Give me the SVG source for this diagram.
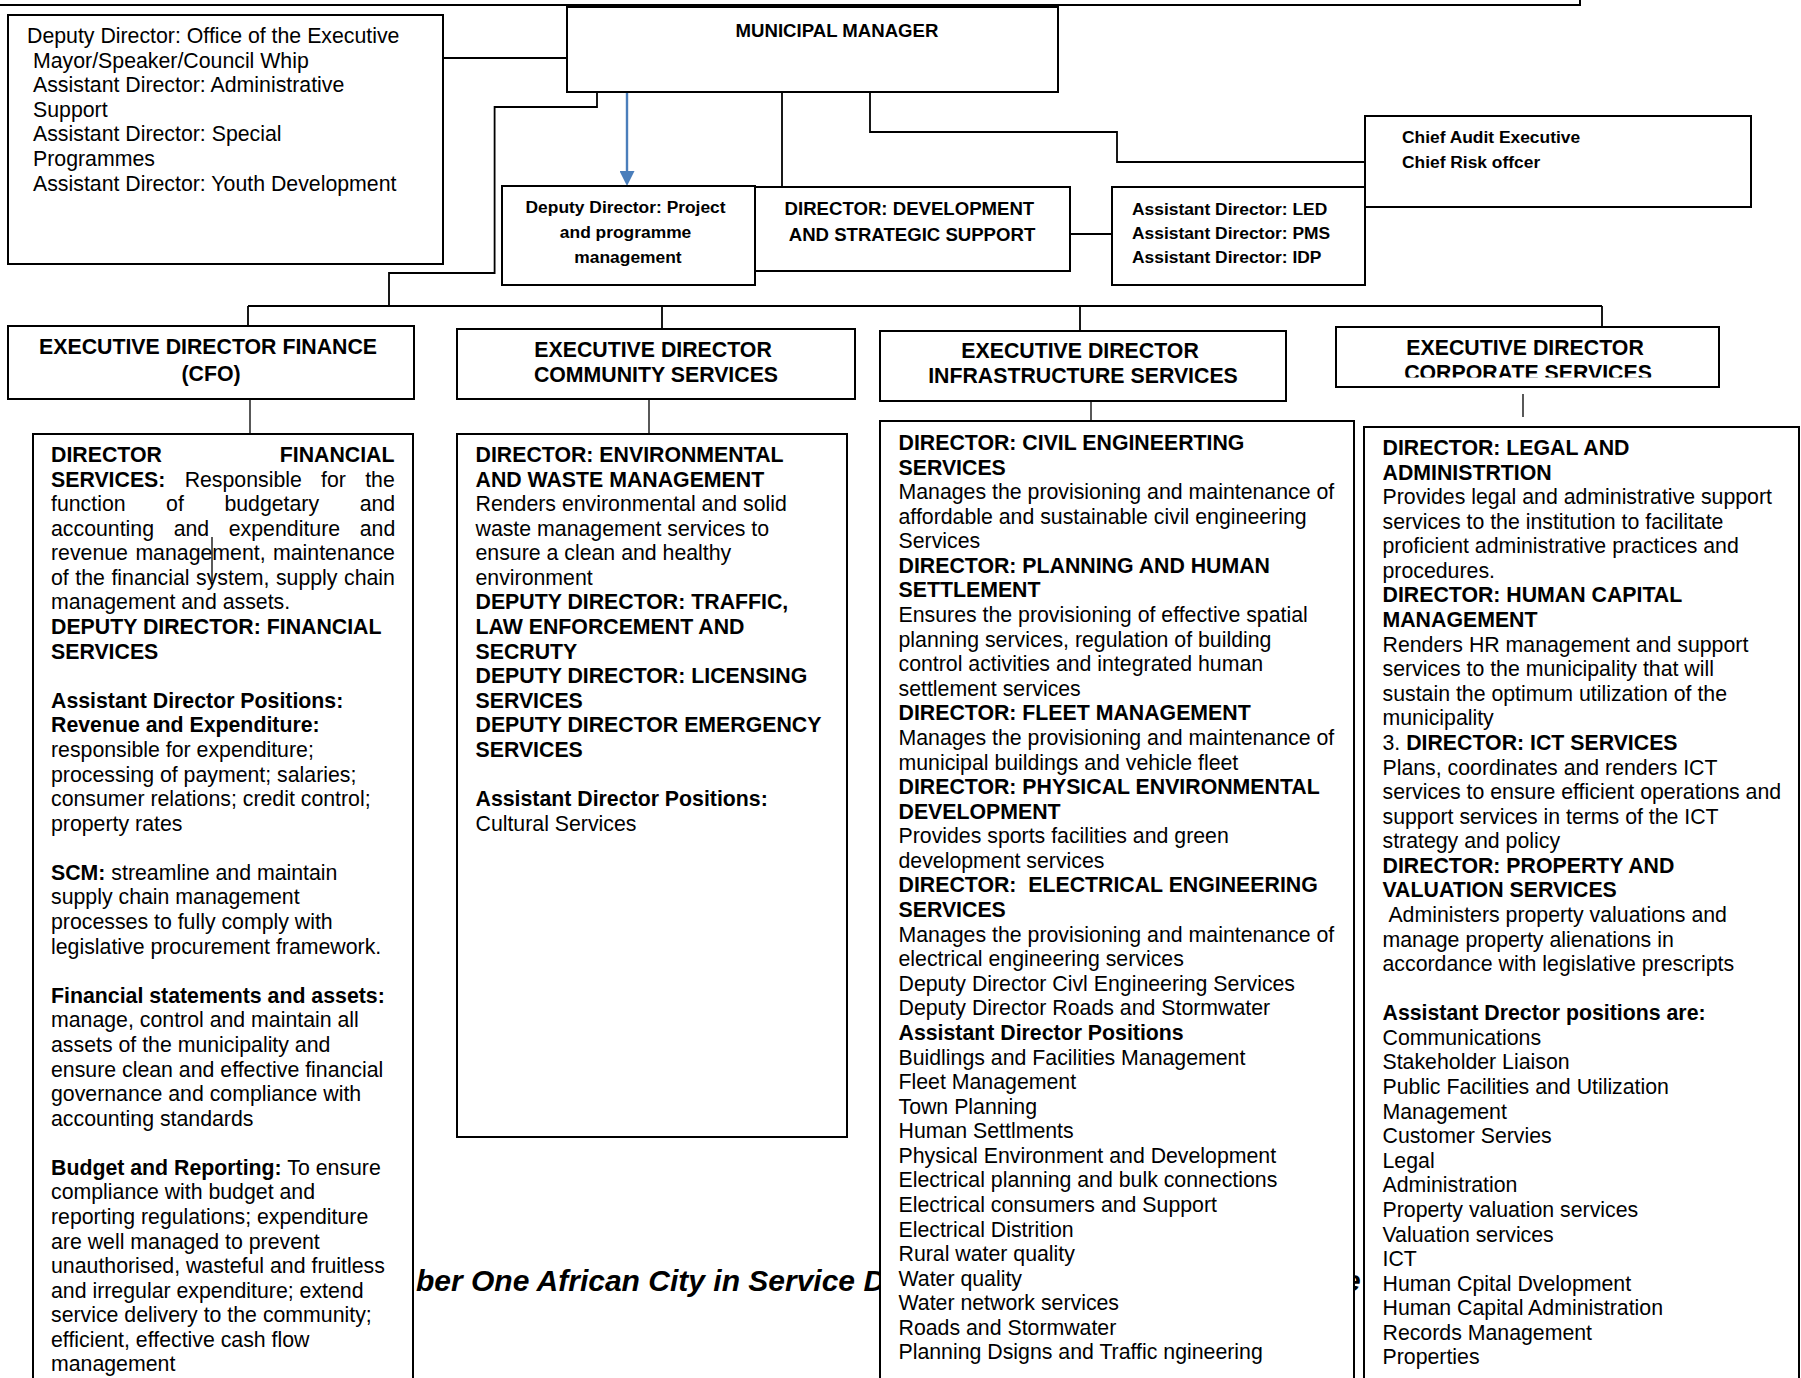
<svg xmlns="http://www.w3.org/2000/svg" width="1801" height="1378" viewBox="0 0 1801 1378">
<style>
.box{fill:#fff;stroke:#000;stroke-width:2}
.ln{fill:none;stroke:#000;stroke-width:1.8}
.thin{fill:none;stroke:#000;stroke-width:1.3}
text{font-family:"Liberation Sans",Arial,sans-serif;fill:#000}
.t{font-size:21.3px}
.b{font-weight:bold}
.s{font-size:17.4px;font-weight:bold}
.m{font-size:18.6px;font-weight:bold}
.c{text-anchor:middle}
.slogan{font-size:30px;font-weight:bold;font-style:italic}
</style>
<defs>
<marker id="ah" viewBox="0 0 15 15" markerWidth="15" markerHeight="15" refX="0" refY="7.5" orient="auto" markerUnits="userSpaceOnUse">
<path d="M0,0 L15,7.5 L0,15 z" fill="#4a7ebb"/>
</marker>
<clipPath id="corpClip"><rect x="1336" y="327" width="383" height="50.5"/></clipPath>
</defs>
<rect width="1801" height="1378" fill="#fff"/>

<!-- partially hidden slogan behind boxes -->
<text class="slogan" x="416" y="1291">ber One African City in Service De</text>
<text class="slogan" x="1344" y="1291">e</text>

<g id="top-frame"><rect class="box" x="-5" y="-20" width="1585" height="25"/></g>

<g id="connectors">
<path class="ln" d="M443,58 H567"/>
<path class="ln" d="M597,92 V107 H494.6 V273 H389 V306"/>
<path class="ln" d="M782,92 V187"/>
<path class="ln" d="M870,92 V132 H1117 V162 H1365"/>
<path class="ln" d="M1070,234 H1112"/>
<path class="ln" d="M248,306 H1602"/>
<path class="ln" d="M248,306 V326 M662,306 V329 M1080,306 V331 M1602,306 V327"/>
<path class="thin" d="M250,400 V434 M649,400 V434 M1091,402 V426 M1523,394 V417"/>
<path d="M627,92 V171" fill="none" stroke="#4a7ebb" stroke-width="2.4" marker-end="url(#ah)"/>
</g>

<g id="municipal-manager">
<rect class="box" x="567" y="7" width="491" height="85"/>
<text class="m c" x="837" y="37">MUNICIPAL MANAGER</text>
</g>

<g id="office-exec-mayor">
<rect class="box" x="8" y="15" width="435" height="249"/>
<text class="t">
<tspan x="27" y="43">Deputy Director: Office of the Executive</tspan>
<tspan x="33" y="67.6">Mayor/Speaker/Council Whip</tspan>
<tspan x="33" y="92.2">Assistant Director: Administrative</tspan>
<tspan x="33" y="116.8">Support</tspan>
<tspan x="33" y="141.4">Assistant Director: Special</tspan>
<tspan x="33" y="166">Programmes</tspan>
<tspan x="33" y="190.6">Assistant Director: Youth Development</tspan>
</text>
</g>

<g id="project-programme">
<rect class="box" x="502" y="186" width="253" height="99"/>
<text class="s c">
<tspan x="628" y="213">Deputy Director: Project</tspan>
<tspan x="628" y="238">and programme</tspan>
<tspan x="628" y="263">management</tspan>
</text>
</g>

<g id="development-strategic">
<rect class="box" x="755" y="187" width="315" height="84"/>
<text class="m c">
<tspan x="912" y="215">DIRECTOR: DEVELOPMENT</tspan>
<tspan x="912" y="241">AND STRATEGIC SUPPORT</tspan>
</text>
</g>

<g id="led-pms-idp">
<rect class="box" x="1112" y="187" width="253" height="98"/>
<text class="s">
<tspan x="1132" y="215">Assistant Director: LED</tspan>
<tspan x="1132" y="239">Assistant Director: PMS</tspan>
<tspan x="1132" y="263">Assistant Director: IDP</tspan>
</text>
</g>

<g id="audit-risk">
<rect class="box" x="1365" y="116" width="386" height="91"/>
<text class="s">
<tspan x="1402" y="143">Chief Audit Executive</tspan>
<tspan x="1402" y="168">Chief Risk offcer</tspan>
</text>
</g>

<g id="ed-finance">
<rect class="box" x="8" y="326" width="406" height="73"/>
<text class="t b c">
<tspan x="211" y="354">EXECUTIVE DIRECTOR FINANCE</tspan>
<tspan x="211" y="381">(CFO)</tspan>
</text>
</g>

<g id="ed-community">
<rect class="box" x="457" y="329" width="398" height="70"/>
<text class="t b c">
<tspan x="656" y="357">EXECUTIVE DIRECTOR</tspan>
<tspan x="656" y="382">COMMUNITY SERVICES</tspan>
</text>
</g>

<g id="ed-infrastructure">
<rect class="box" x="880" y="331" width="406" height="70"/>
<text class="t b c">
<tspan x="1083" y="358">EXECUTIVE DIRECTOR</tspan>
<tspan x="1083" y="383">INFRASTRUCTURE SERVICES</tspan>
</text>
</g>

<g id="ed-corporate">
<rect class="box" x="1336" y="327" width="383" height="60"/>
<text class="t b c" clip-path="url(#corpClip)">
<tspan x="1528" y="355">EXECUTIVE DIRECTOR</tspan>
<tspan x="1528" y="380">CORPORATE SERVICES</tspan>
</text>
</g>

<g id="finance-directorates">
<rect class="box" x="33" y="434" width="380" height="1000"/>
<path class="thin" d="M212,537 V581"/>
<text class="t">
<tspan x="51" y="462" class="b" style="word-spacing:112px">DIRECTOR FINANCIAL</tspan>
<tspan x="51" dy="24.58" style="word-spacing:13.3px"><tspan class="b">SERVICES:</tspan> Responsible for the</tspan>
<tspan x="51" dy="24.58" style="word-spacing:34.6px">function of budgetary and</tspan>
<tspan x="51" dy="24.58" style="word-spacing:13.7px">accounting and expenditure and</tspan>
<tspan x="51" dy="24.58" style="word-spacing:1.5px">revenue management, maintenance</tspan>
<tspan x="51" dy="24.58" style="word-spacing:0.6px">of the financial system, supply chain</tspan>
<tspan x="51" dy="24.58">management and assets.</tspan>
<tspan x="51" dy="24.58" class="b">DEPUTY DIRECTOR: FINANCIAL</tspan>
<tspan x="51" dy="24.58" class="b">SERVICES</tspan>
<tspan x="51" dy="49.16" class="b">Assistant Director Positions:</tspan>
<tspan x="51" dy="24.58" class="b">Revenue and Expenditure:</tspan>
<tspan x="51" dy="24.58">responsible for expenditure;</tspan>
<tspan x="51" dy="24.58">processing of payment; salaries;</tspan>
<tspan x="51" dy="24.58">consumer relations; credit control;</tspan>
<tspan x="51" dy="24.58">property rates</tspan>
<tspan x="51" dy="49.16"><tspan class="b">SCM:</tspan> streamline and maintain</tspan>
<tspan x="51" dy="24.58">supply chain management</tspan>
<tspan x="51" dy="24.58">processes to fully comply with</tspan>
<tspan x="51" dy="24.58">legislative procurement framework.</tspan>
<tspan x="51" dy="49.16" class="b">Financial statements and assets:</tspan>
<tspan x="51" dy="24.58">manage, control and maintain all</tspan>
<tspan x="51" dy="24.58">assets of the municipality and</tspan>
<tspan x="51" dy="24.58">ensure clean and effective financial</tspan>
<tspan x="51" dy="24.58">governance and compliance with</tspan>
<tspan x="51" dy="24.58">accounting standards</tspan>
<tspan x="51" dy="49.16"><tspan class="b">Budget and Reporting:</tspan> To ensure</tspan>
<tspan x="51" dy="24.58">compliance with budget and</tspan>
<tspan x="51" dy="24.58">reporting regulations; expenditure</tspan>
<tspan x="51" dy="24.58">are well managed to prevent</tspan>
<tspan x="51" dy="24.58">unauthorised, wasteful and fruitless</tspan>
<tspan x="51" dy="24.58">and irregular expenditure; extend</tspan>
<tspan x="51" dy="24.58">service delivery to the community;</tspan>
<tspan x="51" dy="24.58">efficient, effective cash flow</tspan>
<tspan x="51" dy="24.58">management</tspan>
</text>
</g>

<g id="community-directorates">
<rect class="box" x="457" y="434" width="390" height="703"/>
<text class="t">
<tspan x="475.5" y="462" class="b">DIRECTOR: ENVIRONMENTAL</tspan>
<tspan x="475.5" dy="24.58" class="b">AND WASTE MANAGEMENT</tspan>
<tspan x="475.5" dy="24.58">Renders environmental and solid</tspan>
<tspan x="475.5" dy="24.58">waste management services to</tspan>
<tspan x="475.5" dy="24.58">ensure a clean and healthy</tspan>
<tspan x="475.5" dy="24.58">environment</tspan>
<tspan x="475.5" dy="24.58" class="b">DEPUTY DIRECTOR: TRAFFIC,</tspan>
<tspan x="475.5" dy="24.58" class="b">LAW ENFORCEMENT AND</tspan>
<tspan x="475.5" dy="24.58" class="b">SECRUTY</tspan>
<tspan x="475.5" dy="24.58" class="b">DEPUTY DIRECTOR: LICENSING</tspan>
<tspan x="475.5" dy="24.58" class="b">SERVICES</tspan>
<tspan x="475.5" dy="24.58" class="b">DEPUTY DIRECTOR EMERGENCY</tspan>
<tspan x="475.5" dy="24.58" class="b">SERVICES</tspan>
<tspan x="475.5" dy="49.16" class="b">Assistant Director Positions:</tspan>
<tspan x="475.5" dy="24.58">Cultural Services</tspan>
</text>
</g>

<g id="infrastructure-directorates">
<rect class="box" x="880" y="421" width="474" height="1000"/>
<text class="t">
<tspan x="898.5" y="450" class="b">DIRECTOR: CIVIL ENGINEERTING</tspan>
<tspan x="898.5" dy="24.58" class="b">SERVICES</tspan>
<tspan x="898.5" dy="24.58">Manages the provisioning and maintenance of</tspan>
<tspan x="898.5" dy="24.58">affordable and sustainable civil engineering</tspan>
<tspan x="898.5" dy="24.58">Services</tspan>
<tspan x="898.5" dy="24.58" class="b">DIRECTOR: PLANNING AND HUMAN</tspan>
<tspan x="898.5" dy="24.58" class="b">SETTLEMENT</tspan>
<tspan x="898.5" dy="24.58">Ensures the provisioning of effective spatial</tspan>
<tspan x="898.5" dy="24.58">planning services, regulation of building</tspan>
<tspan x="898.5" dy="24.58">control activities and integrated human</tspan>
<tspan x="898.5" dy="24.58">settlement services</tspan>
<tspan x="898.5" dy="24.58" class="b">DIRECTOR: FLEET MANAGEMENT</tspan>
<tspan x="898.5" dy="24.58">Manages the provisioning and maintenance of</tspan>
<tspan x="898.5" dy="24.58">municipal buildings and vehicle fleet</tspan>
<tspan x="898.5" dy="24.58" class="b">DIRECTOR: PHYSICAL ENVIRONMENTAL</tspan>
<tspan x="898.5" dy="24.58" class="b">DEVELOPMENT</tspan>
<tspan x="898.5" dy="24.58">Provides sports facilities and green</tspan>
<tspan x="898.5" dy="24.58">development services</tspan>
<tspan x="898.5" dy="24.58" class="b" style="white-space:pre">DIRECTOR:  ELECTRICAL ENGINEERING</tspan>
<tspan x="898.5" dy="24.58" class="b">SERVICES</tspan>
<tspan x="898.5" dy="24.58">Manages the provisioning and maintenance of</tspan>
<tspan x="898.5" dy="24.58">electrical engineering services</tspan>
<tspan x="898.5" dy="24.58">Deputy Director Civl Engineering Services</tspan>
<tspan x="898.5" dy="24.58">Deputy Director Roads and Stormwater</tspan>
<tspan x="898.5" dy="24.58" class="b">Assistant Director Positions</tspan>
<tspan x="898.5" dy="24.58">Buidlings and Facilities Management</tspan>
<tspan x="898.5" dy="24.58">Fleet Management</tspan>
<tspan x="898.5" dy="24.58">Town Planning</tspan>
<tspan x="898.5" dy="24.58">Human Settlments</tspan>
<tspan x="898.5" dy="24.58">Physical Environment and Development</tspan>
<tspan x="898.5" dy="24.58">Electrical planning and bulk connections</tspan>
<tspan x="898.5" dy="24.58">Electrical consumers and Support</tspan>
<tspan x="898.5" dy="24.58">Electrical Distrition</tspan>
<tspan x="898.5" dy="24.58">Rural water quality</tspan>
<tspan x="898.5" dy="24.58">Water quality</tspan>
<tspan x="898.5" dy="24.58">Water network services</tspan>
<tspan x="898.5" dy="24.58">Roads and Stormwater</tspan>
<tspan x="898.5" dy="24.58">Planning Dsigns and Traffic ngineering</tspan>
</text>
</g>

<g id="corporate-directorates">
<rect class="box" x="1364" y="427" width="435" height="1000"/>
<text class="t">
<tspan x="1382.5" y="455" class="b">DIRECTOR: LEGAL AND</tspan>
<tspan x="1382.5" dy="24.58" class="b">ADMINISTRTION</tspan>
<tspan x="1382.5" dy="24.58">Provides legal and administrative support</tspan>
<tspan x="1382.5" dy="24.58">services to the institution to facilitate</tspan>
<tspan x="1382.5" dy="24.58">proficient administrative practices and</tspan>
<tspan x="1382.5" dy="24.58">procedures.</tspan>
<tspan x="1382.5" dy="24.58" class="b">DIRECTOR: HUMAN CAPITAL</tspan>
<tspan x="1382.5" dy="24.58" class="b">MANAGEMENT</tspan>
<tspan x="1382.5" dy="24.58">Renders HR management and support</tspan>
<tspan x="1382.5" dy="24.58">services to the municipality that will</tspan>
<tspan x="1382.5" dy="24.58">sustain the optimum utilization of the</tspan>
<tspan x="1382.5" dy="24.58">municipality</tspan>
<tspan x="1382.5" dy="24.58">3. <tspan class="b">DIRECTOR: ICT SERVICES</tspan></tspan>
<tspan x="1382.5" dy="24.58">Plans, coordinates and renders ICT</tspan>
<tspan x="1382.5" dy="24.58">services to ensure efficient operations and</tspan>
<tspan x="1382.5" dy="24.58">support services in terms of the ICT</tspan>
<tspan x="1382.5" dy="24.58">strategy and policy</tspan>
<tspan x="1382.5" dy="24.58" class="b">DIRECTOR: PROPERTY AND</tspan>
<tspan x="1382.5" dy="24.58" class="b">VALUATION SERVICES</tspan>
<tspan x="1388.4" dy="24.58">Administers property valuations and</tspan>
<tspan x="1382.5" dy="24.58">manage property alienations in</tspan>
<tspan x="1382.5" dy="24.58">accordance with legislative prescripts</tspan>
<tspan x="1382.5" dy="49.16" class="b">Assistant Drector positions are:</tspan>
<tspan x="1382.5" dy="24.58">Communications</tspan>
<tspan x="1382.5" dy="24.58">Stakeholder Liaison</tspan>
<tspan x="1382.5" dy="24.58">Public Facilities and Utilization</tspan>
<tspan x="1382.5" dy="24.58">Management</tspan>
<tspan x="1382.5" dy="24.58">Customer Servies</tspan>
<tspan x="1382.5" dy="24.58">Legal</tspan>
<tspan x="1382.5" dy="24.58">Administration</tspan>
<tspan x="1382.5" dy="24.58">Property valuation services</tspan>
<tspan x="1382.5" dy="24.58">Valuation services</tspan>
<tspan x="1382.5" dy="24.58">ICT</tspan>
<tspan x="1382.5" dy="24.58">Human Cpital Dvelopment</tspan>
<tspan x="1382.5" dy="24.58">Human Capital Administration</tspan>
<tspan x="1382.5" dy="24.58">Records Management</tspan>
<tspan x="1382.5" dy="24.58">Properties</tspan>
</text>
</g>
</svg>
